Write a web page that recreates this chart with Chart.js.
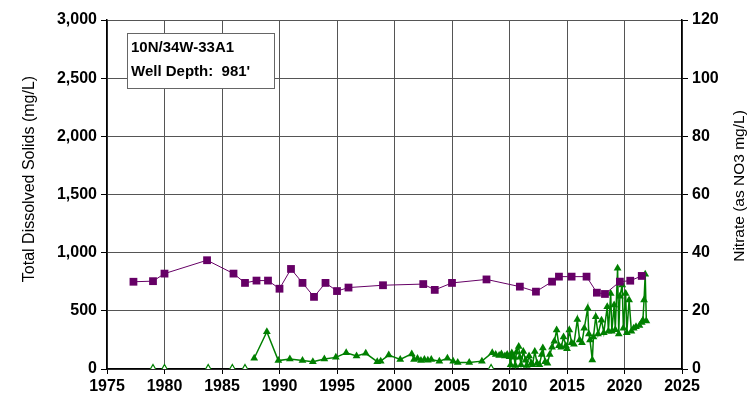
<!DOCTYPE html>
<html>
<head>
<meta charset="utf-8">
<script src="https://cdn.jsdelivr.net/npm/chart.js@4.4.1/dist/chart.umd.min.js"></script>
<style>
  html, body { margin: 0; padding: 0; background: #fff; }
  #wrap { width: 752px; height: 405px; }
</style>
</head>
<body>
<div id="wrap"><canvas id="chart" width="752" height="405"></canvas></div>
<script>
// Total dissolved solids (mg/L)
const tdsYears = [1977.3, 1979.0, 1980.0, 1983.7, 1986.0, 1987.0, 1988.0, 1989.0, 1990.0, 1991.0,
  1992.0, 1993.0, 1994.0, 1995.0, 1996.0, 1999.0, 2002.5, 2003.5, 2005.0, 2008.0,
  2010.9, 2012.3, 2013.7, 2014.3, 2015.4, 2016.7, 2017.6, 2018.3, 2019.6, 2020.5, 2021.5];
const tdsValues = [750, 755, 820, 935, 820, 740, 760, 760, 690, 860,
  740, 620, 740, 670, 700, 720, 730, 680, 740, 770,
  708, 665, 751, 794, 794, 794, 656, 645, 751, 759, 800];

// Nitrate (as NO3 mg/L), detected samples
const no3Years = [1987.8, 1988.9, 1989.9, 1990.9, 1992.0, 1992.9, 1993.9, 1994.9, 1995.8, 1996.7,
  1997.5, 1998.5, 1998.8, 1999.5, 2000.5, 2001.5, 2001.7, 2002.0, 2002.3, 2002.6,
  2002.9, 2003.2, 2003.9, 2004.6, 2005.1, 2005.5, 2006.5, 2007.6, 2008.5, 2008.8,
  2009.1, 2009.3, 2009.6, 2009.8, 2010.0, 2010.1, 2010.2, 2010.4, 2010.5, 2010.6,
  2010.8, 2010.9, 2011.0, 2011.2, 2011.4, 2011.5, 2011.7, 2011.9, 2012.0, 2012.2,
  2012.4, 2012.6, 2012.8, 2012.9, 2013.1, 2013.3, 2013.5, 2013.7, 2013.9, 2014.1,
  2014.3, 2014.5, 2014.7, 2014.9, 2015.0, 2015.2, 2015.4, 2015.6, 2015.9, 2016.1,
  2016.3, 2016.5, 2016.8, 2016.9, 2017.0, 2017.2, 2017.3, 2017.5, 2017.7, 2018.0,
  2018.2, 2018.5, 2018.6, 2018.8, 2018.9, 2019.1, 2019.2, 2019.4, 2019.5, 2019.6,
  2019.8, 2019.9, 2020.1, 2020.2, 2020.4, 2020.6, 2020.8, 2021.0, 2021.3, 2021.5,
  2021.6, 2021.7, 2021.8, 2021.9];
const no3Values = [3.7, 12.8, 2.9, 3.4, 2.9, 2.5, 3.4, 4.0, 5.6, 4.5,
  5.4, 2.5, 2.7, 4.8, 3.3, 5.2, 3.3, 3.6, 2.9, 3.3,
  3.0, 3.3, 2.7, 3.7, 2.7, 2.2, 2.2, 2.7, 5.6, 5.0,
  4.6, 5.2, 4.5, 5.0, 4.2, 1.5, 5.5, 4.0, 1.2, 5.8,
  7.7, 4.0, 1.5, 6.0, 3.0, 1.2, 4.5, 2.0, 1.5, 6.0,
  2.0, 1.5, 5.0, 7.2, 2.5, 2.0, 5.0, 7.5, 9.5, 13.4,
  8.0, 7.5, 11.0, 8.0, 7.0, 13.4, 9.0, 8.5, 17.0, 10.0,
  9.0, 14.0, 20.9, 12.0, 10.0, 3.1, 11.0, 18.0, 12.0, 16.8,
  12.5, 21.4, 13.0, 26.0, 13.0, 22.0, 13.5, 34.6, 12.0, 25.0,
  28.9, 14.0, 26.0, 12.5, 23.7, 13.0, 14.0, 14.5, 15.0, 16.0,
  16.8, 23.7, 32.6, 16.5];

// Nitrate non-detects (plotted at zero)
const ndYears = [1979.0, 1980.0, 1983.8, 1985.9, 1987.0, 2008.4];
const ndValues = [0, 0, 0, 0, 0, 0];

const wellLabel = ['10N/34W-33A1', "Well Depth:  981'"];
const leftTitle = 'Total Dissolved Solids (mg/L)';
const rightTitle = 'Nitrate (as NO3 mg/L)';

const toPoints = (xs, ys) => xs.map((x, i) => ({ x, y: ys[i] }));

const FAMILY = 'Liberation Sans, Arial, sans-serif';
const tickFont = { family: FAMILY, size: 16, weight: 'bold' };

// label box and both axis titles (both read bottom to top)
const extras = {
  id: 'extras',
  afterDraw(chart) {
    const ctx = chart.ctx;
    ctx.save();
    ctx.fillStyle = '#fff';
    ctx.fillRect(127, 33, 147, 55);
    ctx.strokeStyle = '#666';
    ctx.lineWidth = 1;
    ctx.strokeRect(127.5, 33.5, 147, 55);
    ctx.fillStyle = '#000';
    ctx.font = 'bold 15px ' + FAMILY;
    ctx.textBaseline = 'middle';
    ctx.fillText(wellLabel[0], 131, 48);
    ctx.fillText(wellLabel[1], 131, 72);

    ctx.font = '16px ' + FAMILY;
    ctx.textAlign = 'center';
    ctx.translate(30, 179);
    ctx.rotate(-Math.PI / 2);
    ctx.fillText(leftTitle, 0, 0);
    ctx.restore();

    ctx.save();
    ctx.fillStyle = '#000';
    ctx.font = '15.5px ' + FAMILY;
    ctx.textAlign = 'center';
    ctx.textBaseline = 'middle';
    ctx.translate(740, 186);
    ctx.rotate(-Math.PI / 2);
    ctx.fillText(rightTitle, 0, 0);
    ctx.restore();
  }
};

new Chart(document.getElementById('chart'), {
  type: 'scatter',
  data: {
    datasets: [
      {
        label: 'TDS',
        data: toPoints(tdsYears, tdsValues),
        yAxisID: 'y',
        showLine: true,
        borderColor: '#660066',
        backgroundColor: '#660066',
        borderWidth: 1,
        pointStyle: 'rect',
        pointRadius: 5.5,
        pointBorderWidth: 0
      },
      {
        label: 'Nitrate',
        data: toPoints(no3Years, no3Values),
        yAxisID: 'y2',
        showLine: true,
        borderColor: '#008000',
        backgroundColor: '#008000',
        borderWidth: 1.5,
        pointStyle: 'triangle',
        pointRadius: 4.5,
        pointBorderWidth: 0
      },
      {
        label: 'Nitrate ND',
        data: toPoints(ndYears, ndValues),
        yAxisID: 'y2',
        showLine: false,
        borderColor: '#008000',
        backgroundColor: '#fff',
        pointStyle: 'triangle',
        pointRadius: 4.5,
        pointBorderWidth: 1.2
      }
    ]
  },
  options: {
    responsive: false,
    animation: false,
    layout: { padding: { top: 20, left: 0, right: 0, bottom: 0 } },
    plugins: { legend: { display: false }, tooltip: { enabled: false } },
    scales: {
      x: {
        type: 'linear',
        min: 1975,
        max: 2025,
        afterFit: (s) => { s.height = 36; },
        ticks: { stepSize: 5, color: '#000', font: tickFont, padding: 3, callback: (v) => String(v) },
        grid: { color: '#555', lineWidth: 1, tickLength: 5, tickColor: '#000' },
        border: { color: '#000', width: 1.5 }
      },
      y: {
        position: 'left',
        min: 0,
        max: 3000,
        afterFit: (s) => { s.width = 107; },
        ticks: { stepSize: 500, color: '#000', font: tickFont, padding: 4,
          callback: (v) => v.toLocaleString('en-US') },
        grid: { color: '#555', lineWidth: 1, tickLength: 6, tickColor: '#000' },
        border: { color: '#000', width: 1.5 }
      },
      y2: {
        position: 'right',
        min: 0,
        max: 120,
        afterFit: (s) => { s.width = 70; },
        ticks: { stepSize: 20, color: '#000', font: tickFont, padding: 4 },
        grid: { drawOnChartArea: false, tickLength: 6, tickColor: '#000' },
        border: { color: '#000', width: 1.5 }
      }
    }
  },
  plugins: [extras]
});
</script>
</body>
</html>
